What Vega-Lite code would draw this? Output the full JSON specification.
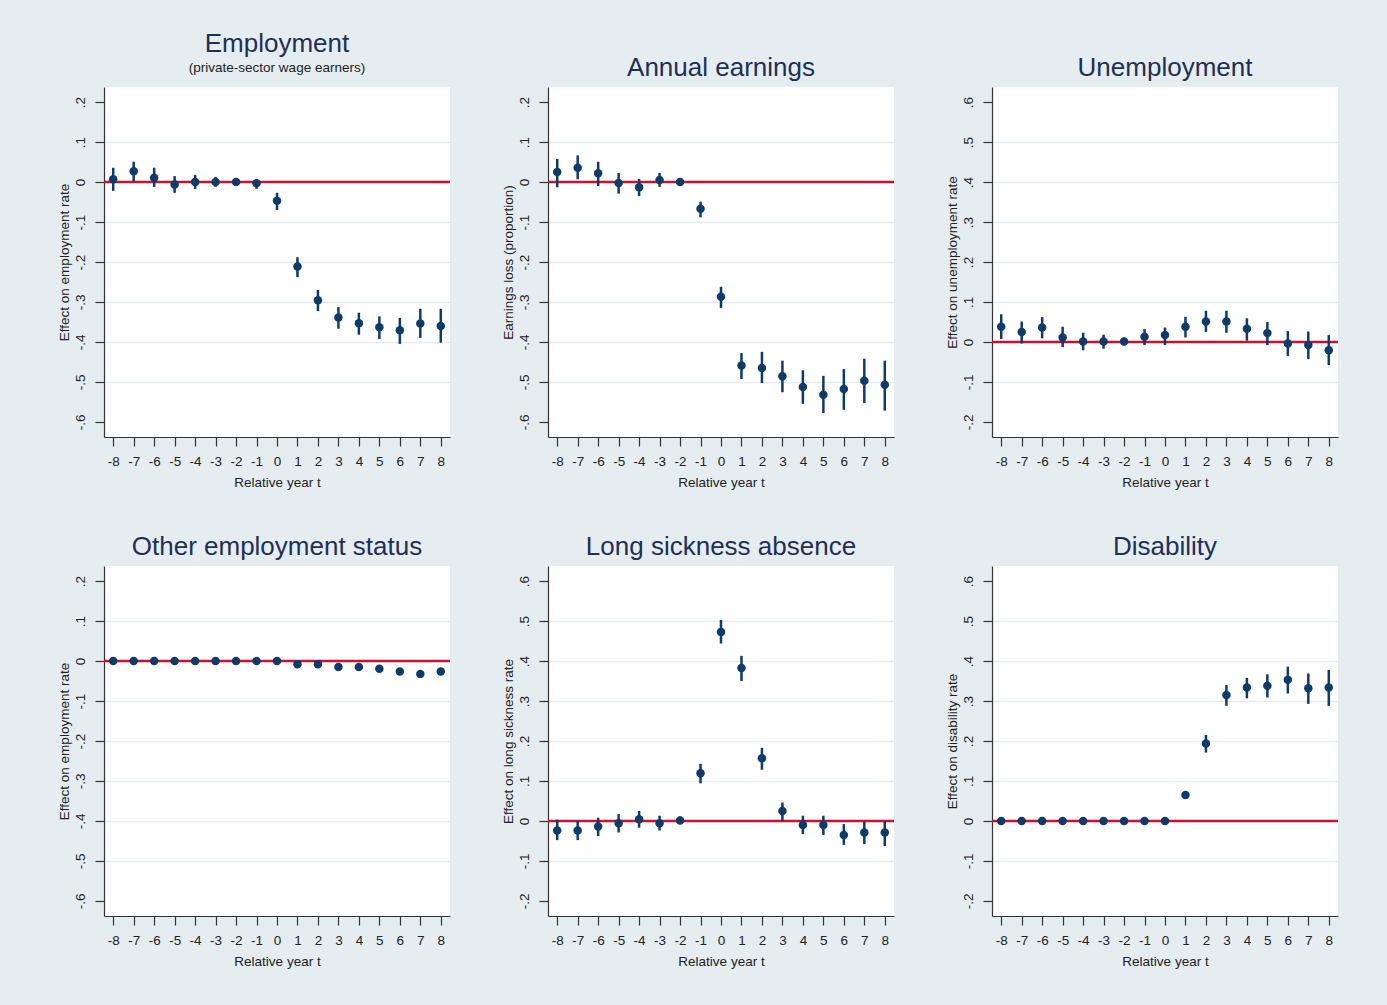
{
  "$schema": "https://vega.github.io/schema/vega-lite/v6.json",
  "background": "#e5edf1",
  "padding": {"left": 56, "top": 30, "right": 48, "bottom": 40},
  "bounds": "flush",
  "spacing": {"row": 129, "column": 98},
  "columns": 3,
  "datasets": {
    "d": [
      {"p":"emp","t":-8,"e":0.007,"lo":-0.022,"hi":0.036},
      {"p":"emp","t":-7,"e":0.027,"lo":0.002,"hi":0.051},
      {"p":"emp","t":-6,"e":0.011,"lo":-0.012,"hi":0.036},
      {"p":"emp","t":-5,"e":-0.006,"lo":-0.027,"hi":0.015},
      {"p":"emp","t":-4,"e":0.0,"lo":-0.017,"hi":0.018},
      {"p":"emp","t":-3,"e":0.0,"lo":-0.012,"hi":0.013},
      {"p":"emp","t":-2,"e":0.0,"lo":-0.007,"hi":0.007},
      {"p":"emp","t":-1,"e":-0.003,"lo":-0.017,"hi":0.008},
      {"p":"emp","t":0,"e":-0.047,"lo":-0.070,"hi":-0.027},
      {"p":"emp","t":1,"e":-0.211,"lo":-0.238,"hi":-0.188},
      {"p":"emp","t":2,"e":-0.296,"lo":-0.323,"hi":-0.270},
      {"p":"emp","t":3,"e":-0.339,"lo":-0.367,"hi":-0.313},
      {"p":"emp","t":4,"e":-0.353,"lo":-0.382,"hi":-0.327},
      {"p":"emp","t":5,"e":-0.363,"lo":-0.393,"hi":-0.336},
      {"p":"emp","t":6,"e":-0.371,"lo":-0.405,"hi":-0.340},
      {"p":"emp","t":7,"e":-0.354,"lo":-0.390,"hi":-0.317},
      {"p":"emp","t":8,"e":-0.360,"lo":-0.402,"hi":-0.317},

      {"p":"earn","t":-8,"e":0.025,"lo":-0.013,"hi":0.058},
      {"p":"earn","t":-7,"e":0.036,"lo":0.007,"hi":0.067},
      {"p":"earn","t":-6,"e":0.022,"lo":-0.010,"hi":0.051},
      {"p":"earn","t":-5,"e":-0.002,"lo":-0.029,"hi":0.023},
      {"p":"earn","t":-4,"e":-0.013,"lo":-0.035,"hi":0.008},
      {"p":"earn","t":-3,"e":0.005,"lo":-0.012,"hi":0.023},
      {"p":"earn","t":-2,"e":0.0,"lo":-0.008,"hi":0.008},
      {"p":"earn","t":-1,"e":-0.067,"lo":-0.088,"hi":-0.049},
      {"p":"earn","t":0,"e":-0.287,"lo":-0.315,"hi":-0.262},
      {"p":"earn","t":1,"e":-0.459,"lo":-0.493,"hi":-0.428},
      {"p":"earn","t":2,"e":-0.465,"lo":-0.503,"hi":-0.425},
      {"p":"earn","t":3,"e":-0.486,"lo":-0.526,"hi":-0.447},
      {"p":"earn","t":4,"e":-0.513,"lo":-0.555,"hi":-0.471},
      {"p":"earn","t":5,"e":-0.532,"lo":-0.578,"hi":-0.485},
      {"p":"earn","t":6,"e":-0.518,"lo":-0.570,"hi":-0.468},
      {"p":"earn","t":7,"e":-0.497,"lo":-0.553,"hi":-0.442},
      {"p":"earn","t":8,"e":-0.507,"lo":-0.572,"hi":-0.447},

      {"p":"unemp","t":-8,"e":0.038,"lo":0.007,"hi":0.069},
      {"p":"unemp","t":-7,"e":0.025,"lo":-0.004,"hi":0.051},
      {"p":"unemp","t":-6,"e":0.036,"lo":0.009,"hi":0.062},
      {"p":"unemp","t":-5,"e":0.011,"lo":-0.013,"hi":0.038},
      {"p":"unemp","t":-4,"e":0.001,"lo":-0.021,"hi":0.023},
      {"p":"unemp","t":-3,"e":0.001,"lo":-0.017,"hi":0.018},
      {"p":"unemp","t":-2,"e":0.001,"lo":-0.008,"hi":0.011},
      {"p":"unemp","t":-1,"e":0.013,"lo":-0.008,"hi":0.032},
      {"p":"unemp","t":0,"e":0.017,"lo":-0.008,"hi":0.036},
      {"p":"unemp","t":1,"e":0.038,"lo":0.011,"hi":0.063},
      {"p":"unemp","t":2,"e":0.051,"lo":0.025,"hi":0.078},
      {"p":"unemp","t":3,"e":0.051,"lo":0.023,"hi":0.078},
      {"p":"unemp","t":4,"e":0.033,"lo":0.003,"hi":0.059},
      {"p":"unemp","t":5,"e":0.022,"lo":-0.008,"hi":0.050},
      {"p":"unemp","t":6,"e":-0.004,"lo":-0.035,"hi":0.027},
      {"p":"unemp","t":7,"e":-0.008,"lo":-0.043,"hi":0.026},
      {"p":"unemp","t":8,"e":-0.021,"lo":-0.058,"hi":0.017},

      {"p":"other","t":-8,"e":0.0,"lo":-0.003,"hi":0.003},
      {"p":"other","t":-7,"e":0.0,"lo":-0.003,"hi":0.003},
      {"p":"other","t":-6,"e":0.0,"lo":-0.003,"hi":0.003},
      {"p":"other","t":-5,"e":0.0,"lo":-0.003,"hi":0.003},
      {"p":"other","t":-4,"e":0.0,"lo":-0.003,"hi":0.003},
      {"p":"other","t":-3,"e":0.0,"lo":-0.003,"hi":0.003},
      {"p":"other","t":-2,"e":0.0,"lo":-0.003,"hi":0.003},
      {"p":"other","t":-1,"e":0.0,"lo":-0.003,"hi":0.003},
      {"p":"other","t":0,"e":0.0,"lo":-0.003,"hi":0.003},
      {"p":"other","t":1,"e":-0.008,"lo":-0.011,"hi":-0.005},
      {"p":"other","t":2,"e":-0.008,"lo":-0.011,"hi":-0.005},
      {"p":"other","t":3,"e":-0.015,"lo":-0.018,"hi":-0.012},
      {"p":"other","t":4,"e":-0.015,"lo":-0.018,"hi":-0.012},
      {"p":"other","t":5,"e":-0.019,"lo":-0.022,"hi":-0.016},
      {"p":"other","t":6,"e":-0.026,"lo":-0.029,"hi":-0.023},
      {"p":"other","t":7,"e":-0.032,"lo":-0.035,"hi":-0.029},
      {"p":"other","t":8,"e":-0.026,"lo":-0.030,"hi":-0.022},

      {"p":"sick","t":-8,"e":-0.024,"lo":-0.048,"hi":0.003},
      {"p":"sick","t":-7,"e":-0.024,"lo":-0.048,"hi":0.0},
      {"p":"sick","t":-6,"e":-0.014,"lo":-0.038,"hi":0.008},
      {"p":"sick","t":-5,"e":-0.006,"lo":-0.029,"hi":0.017},
      {"p":"sick","t":-4,"e":0.004,"lo":-0.017,"hi":0.025},
      {"p":"sick","t":-3,"e":-0.006,"lo":-0.024,"hi":0.013},
      {"p":"sick","t":-2,"e":0.001,"lo":-0.008,"hi":0.011},
      {"p":"sick","t":-1,"e":0.119,"lo":0.094,"hi":0.143},
      {"p":"sick","t":0,"e":0.473,"lo":0.444,"hi":0.503},
      {"p":"sick","t":1,"e":0.383,"lo":0.350,"hi":0.413},
      {"p":"sick","t":2,"e":0.157,"lo":0.128,"hi":0.183},
      {"p":"sick","t":3,"e":0.025,"lo":0.0,"hi":0.046},
      {"p":"sick","t":4,"e":-0.010,"lo":-0.033,"hi":0.013},
      {"p":"sick","t":5,"e":-0.010,"lo":-0.035,"hi":0.013},
      {"p":"sick","t":6,"e":-0.035,"lo":-0.060,"hi":-0.008},
      {"p":"sick","t":7,"e":-0.029,"lo":-0.058,"hi":-0.002},
      {"p":"sick","t":8,"e":-0.029,"lo":-0.063,"hi":0.0},

      {"p":"dis","t":-8,"e":0.0,"lo":-0.003,"hi":0.003},
      {"p":"dis","t":-7,"e":0.0,"lo":-0.003,"hi":0.003},
      {"p":"dis","t":-6,"e":0.0,"lo":-0.003,"hi":0.003},
      {"p":"dis","t":-5,"e":0.0,"lo":-0.003,"hi":0.003},
      {"p":"dis","t":-4,"e":0.0,"lo":-0.003,"hi":0.003},
      {"p":"dis","t":-3,"e":0.0,"lo":-0.003,"hi":0.003},
      {"p":"dis","t":-2,"e":0.0,"lo":-0.003,"hi":0.003},
      {"p":"dis","t":-1,"e":0.0,"lo":-0.003,"hi":0.003},
      {"p":"dis","t":0,"e":0.0,"lo":-0.003,"hi":0.003},
      {"p":"dis","t":1,"e":0.065,"lo":0.058,"hi":0.072},
      {"p":"dis","t":2,"e":0.194,"lo":0.171,"hi":0.215},
      {"p":"dis","t":3,"e":0.315,"lo":0.288,"hi":0.340},
      {"p":"dis","t":4,"e":0.334,"lo":0.307,"hi":0.358},
      {"p":"dis","t":5,"e":0.338,"lo":0.309,"hi":0.367},
      {"p":"dis","t":6,"e":0.353,"lo":0.319,"hi":0.386},
      {"p":"dis","t":7,"e":0.332,"lo":0.293,"hi":0.369},
      {"p":"dis","t":8,"e":0.334,"lo":0.288,"hi":0.378}
    ]
  },
  "data": {"name": "d"},
  "config": {
    "font": "Liberation Sans",
    "view": {"stroke": null, "fill": "white"},
    "axis": {"domainColor": "#333333", "domainWidth": 1.2, "tickColor": "#333333", "tickWidth": 1.2, "tickSize": 9, "labelColor": "#222222", "labelFontSize": 13.5, "titleColor": "#222222", "titleFontSize": 13.5, "titleFontWeight": "normal", "gridColor": "#e3ebee", "gridWidth": 1.5, "labelFlush": false, "labelOverlap": false},
    "axisX": {"grid": false, "labelPadding": 8, "titlePadding": 8},
    "axisY": {"grid": true, "labelAngle": 270, "labelAlign": "center", "labelBaseline": "bottom", "labelPadding": 8, "titlePadding": 2},
    "title": {"fontSize": 26, "fontWeight": "normal", "color": "#1f2f55", "subtitleFontSize": 13.5, "subtitleColor": "#222222", "anchor": "middle", "frame": "group", "offset": 6, "subtitlePadding": 4}
  },
  "concat": [
    {
      "title": {"text": "Employment", "subtitle": "(private-sector wage earners)", "subtitleFontSize": 13.5, "offset": 13},
      "width": 346, "height": 350,
      "layer": [
        {"data": {"values": [{"z": 0}]}, "mark": {"type": "rule", "color": "#cc1030", "strokeWidth": 2.5}, "encoding": {"y": {"field": "z", "type": "quantitative", "scale": {"domain": [-0.638, 0.238], "nice": false, "zero": false}, "axis": {"title": "Effect on employment rate", "values": [-0.6,-0.5,-0.4,-0.3,-0.2,-0.1,0,0.1,0.2], "labelExpr": "datum.value == 0 ? '0' : (datum.value < 0 ? '-' : '') + replace(format(abs(datum.value), '.1f'), '0.', '.')", "gridOpacity": {"condition": {"test": "datum.value > 0.15 || datum.value < -0.55", "value": 0}, "value": 1}}}}},
        {"transform": [{"filter": "datum.p == 'emp'"}], "mark": {"type": "rule", "color": "#0f3b68", "strokeWidth": 2.5}, "encoding": {"x": {"field": "t", "type": "quantitative", "scale": {"domain": [-8.45, 8.45], "nice": false, "zero": false}, "axis": {"title": "Relative year t", "values": [-8,-7,-6,-5,-4,-3,-2,-1,0,1,2,3,4,5,6,7,8], "labelExpr": "(datum.value < 0 ? '-' : '') + abs(datum.value)"}}, "y": {"field": "lo", "type": "quantitative", "scale": {"domain": [-0.638, 0.238], "nice": false, "zero": false}, "axis": {"title": "Effect on employment rate", "values": [-0.6,-0.5,-0.4,-0.3,-0.2,-0.1,0,0.1,0.2], "labelExpr": "datum.value == 0 ? '0' : (datum.value < 0 ? '-' : '') + replace(format(abs(datum.value), '.1f'), '0.', '.')", "gridOpacity": {"condition": {"test": "datum.value > 0.15 || datum.value < -0.55", "value": 0}, "value": 1}}}, "y2": {"field": "hi"}}},
        {"transform": [{"filter": "datum.p == 'emp'"}], "mark": {"type": "point", "filled": true, "size": 72, "color": "#0f3b68", "opacity": 1}, "encoding": {"x": {"field": "t", "type": "quantitative", "scale": {"domain": [-8.45, 8.45], "nice": false, "zero": false}, "axis": {"title": "Relative year t", "values": [-8,-7,-6,-5,-4,-3,-2,-1,0,1,2,3,4,5,6,7,8], "labelExpr": "(datum.value < 0 ? '-' : '') + abs(datum.value)"}}, "y": {"field": "e", "type": "quantitative", "scale": {"domain": [-0.638, 0.238], "nice": false, "zero": false}, "axis": {"title": "Effect on employment rate", "values": [-0.6,-0.5,-0.4,-0.3,-0.2,-0.1,0,0.1,0.2], "labelExpr": "datum.value == 0 ? '0' : (datum.value < 0 ? '-' : '') + replace(format(abs(datum.value), '.1f'), '0.', '.')", "gridOpacity": {"condition": {"test": "datum.value > 0.15 || datum.value < -0.55", "value": 0}, "value": 1}}}}}
      ]
    },
    {
      "title": {"text": "Annual earnings", "offset": 6},
      "width": 346, "height": 350,
      "layer": [
        {"data": {"values": [{"z": 0}]}, "mark": {"type": "rule", "color": "#cc1030", "strokeWidth": 2.5}, "encoding": {"y": {"field": "z", "type": "quantitative", "scale": {"domain": [-0.638, 0.238], "nice": false, "zero": false}, "axis": {"title": "Earnings loss (proportion)", "values": [-0.6,-0.5,-0.4,-0.3,-0.2,-0.1,0,0.1,0.2], "labelExpr": "datum.value == 0 ? '0' : (datum.value < 0 ? '-' : '') + replace(format(abs(datum.value), '.1f'), '0.', '.')", "gridOpacity": {"condition": {"test": "datum.value > 0.15 || datum.value < -0.55", "value": 0}, "value": 1}}}}},
        {"transform": [{"filter": "datum.p == 'earn'"}], "mark": {"type": "rule", "color": "#0f3b68", "strokeWidth": 2.5}, "encoding": {"x": {"field": "t", "type": "quantitative", "scale": {"domain": [-8.45, 8.45], "nice": false, "zero": false}, "axis": {"title": "Relative year t", "values": [-8,-7,-6,-5,-4,-3,-2,-1,0,1,2,3,4,5,6,7,8], "labelExpr": "(datum.value < 0 ? '-' : '') + abs(datum.value)"}}, "y": {"field": "lo", "type": "quantitative", "scale": {"domain": [-0.638, 0.238], "nice": false, "zero": false}, "axis": {"title": "Earnings loss (proportion)", "values": [-0.6,-0.5,-0.4,-0.3,-0.2,-0.1,0,0.1,0.2], "labelExpr": "datum.value == 0 ? '0' : (datum.value < 0 ? '-' : '') + replace(format(abs(datum.value), '.1f'), '0.', '.')", "gridOpacity": {"condition": {"test": "datum.value > 0.15 || datum.value < -0.55", "value": 0}, "value": 1}}}, "y2": {"field": "hi"}}},
        {"transform": [{"filter": "datum.p == 'earn'"}], "mark": {"type": "point", "filled": true, "size": 72, "color": "#0f3b68", "opacity": 1}, "encoding": {"x": {"field": "t", "type": "quantitative", "scale": {"domain": [-8.45, 8.45], "nice": false, "zero": false}, "axis": {"title": "Relative year t", "values": [-8,-7,-6,-5,-4,-3,-2,-1,0,1,2,3,4,5,6,7,8], "labelExpr": "(datum.value < 0 ? '-' : '') + abs(datum.value)"}}, "y": {"field": "e", "type": "quantitative", "scale": {"domain": [-0.638, 0.238], "nice": false, "zero": false}, "axis": {"title": "Earnings loss (proportion)", "values": [-0.6,-0.5,-0.4,-0.3,-0.2,-0.1,0,0.1,0.2], "labelExpr": "datum.value == 0 ? '0' : (datum.value < 0 ? '-' : '') + replace(format(abs(datum.value), '.1f'), '0.', '.')", "gridOpacity": {"condition": {"test": "datum.value > 0.15 || datum.value < -0.55", "value": 0}, "value": 1}}}}}
      ]
    },
    {
      "title": {"text": "Unemployment", "offset": 6},
      "width": 346, "height": 350,
      "layer": [
        {"data": {"values": [{"z": 0}]}, "mark": {"type": "rule", "color": "#cc1030", "strokeWidth": 2.5}, "encoding": {"y": {"field": "z", "type": "quantitative", "scale": {"domain": [-0.238, 0.638], "nice": false, "zero": false}, "axis": {"title": "Effect on unemployment rate", "values": [-0.2,-0.1,0,0.1,0.2,0.3,0.4,0.5,0.6], "labelExpr": "datum.value == 0 ? '0' : (datum.value < 0 ? '-' : '') + replace(format(abs(datum.value), '.1f'), '0.', '.')", "gridOpacity": {"condition": {"test": "datum.value > 0.55 || datum.value < -0.15", "value": 0}, "value": 1}}}}},
        {"transform": [{"filter": "datum.p == 'unemp'"}], "mark": {"type": "rule", "color": "#0f3b68", "strokeWidth": 2.5}, "encoding": {"x": {"field": "t", "type": "quantitative", "scale": {"domain": [-8.45, 8.45], "nice": false, "zero": false}, "axis": {"title": "Relative year t", "values": [-8,-7,-6,-5,-4,-3,-2,-1,0,1,2,3,4,5,6,7,8], "labelExpr": "(datum.value < 0 ? '-' : '') + abs(datum.value)"}}, "y": {"field": "lo", "type": "quantitative", "scale": {"domain": [-0.238, 0.638], "nice": false, "zero": false}, "axis": {"title": "Effect on unemployment rate", "values": [-0.2,-0.1,0,0.1,0.2,0.3,0.4,0.5,0.6], "labelExpr": "datum.value == 0 ? '0' : (datum.value < 0 ? '-' : '') + replace(format(abs(datum.value), '.1f'), '0.', '.')", "gridOpacity": {"condition": {"test": "datum.value > 0.55 || datum.value < -0.15", "value": 0}, "value": 1}}}, "y2": {"field": "hi"}}},
        {"transform": [{"filter": "datum.p == 'unemp'"}], "mark": {"type": "point", "filled": true, "size": 72, "color": "#0f3b68", "opacity": 1}, "encoding": {"x": {"field": "t", "type": "quantitative", "scale": {"domain": [-8.45, 8.45], "nice": false, "zero": false}, "axis": {"title": "Relative year t", "values": [-8,-7,-6,-5,-4,-3,-2,-1,0,1,2,3,4,5,6,7,8], "labelExpr": "(datum.value < 0 ? '-' : '') + abs(datum.value)"}}, "y": {"field": "e", "type": "quantitative", "scale": {"domain": [-0.238, 0.638], "nice": false, "zero": false}, "axis": {"title": "Effect on unemployment rate", "values": [-0.2,-0.1,0,0.1,0.2,0.3,0.4,0.5,0.6], "labelExpr": "datum.value == 0 ? '0' : (datum.value < 0 ? '-' : '') + replace(format(abs(datum.value), '.1f'), '0.', '.')", "gridOpacity": {"condition": {"test": "datum.value > 0.55 || datum.value < -0.15", "value": 0}, "value": 1}}}}}
      ]
    },
    {
      "title": {"text": "Other employment status", "offset": 6},
      "width": 346, "height": 350,
      "layer": [
        {"data": {"values": [{"z": 0}]}, "mark": {"type": "rule", "color": "#cc1030", "strokeWidth": 2.5}, "encoding": {"y": {"field": "z", "type": "quantitative", "scale": {"domain": [-0.638, 0.238], "nice": false, "zero": false}, "axis": {"title": "Effect on employment rate", "values": [-0.6,-0.5,-0.4,-0.3,-0.2,-0.1,0,0.1,0.2], "labelExpr": "datum.value == 0 ? '0' : (datum.value < 0 ? '-' : '') + replace(format(abs(datum.value), '.1f'), '0.', '.')", "gridOpacity": {"condition": {"test": "datum.value > 0.15 || datum.value < -0.55", "value": 0}, "value": 1}}}}},
        {"transform": [{"filter": "datum.p == 'other'"}], "mark": {"type": "rule", "color": "#0f3b68", "strokeWidth": 2.5}, "encoding": {"x": {"field": "t", "type": "quantitative", "scale": {"domain": [-8.45, 8.45], "nice": false, "zero": false}, "axis": {"title": "Relative year t", "values": [-8,-7,-6,-5,-4,-3,-2,-1,0,1,2,3,4,5,6,7,8], "labelExpr": "(datum.value < 0 ? '-' : '') + abs(datum.value)"}}, "y": {"field": "lo", "type": "quantitative", "scale": {"domain": [-0.638, 0.238], "nice": false, "zero": false}, "axis": {"title": "Effect on employment rate", "values": [-0.6,-0.5,-0.4,-0.3,-0.2,-0.1,0,0.1,0.2], "labelExpr": "datum.value == 0 ? '0' : (datum.value < 0 ? '-' : '') + replace(format(abs(datum.value), '.1f'), '0.', '.')", "gridOpacity": {"condition": {"test": "datum.value > 0.15 || datum.value < -0.55", "value": 0}, "value": 1}}}, "y2": {"field": "hi"}}},
        {"transform": [{"filter": "datum.p == 'other'"}], "mark": {"type": "point", "filled": true, "size": 72, "color": "#0f3b68", "opacity": 1}, "encoding": {"x": {"field": "t", "type": "quantitative", "scale": {"domain": [-8.45, 8.45], "nice": false, "zero": false}, "axis": {"title": "Relative year t", "values": [-8,-7,-6,-5,-4,-3,-2,-1,0,1,2,3,4,5,6,7,8], "labelExpr": "(datum.value < 0 ? '-' : '') + abs(datum.value)"}}, "y": {"field": "e", "type": "quantitative", "scale": {"domain": [-0.638, 0.238], "nice": false, "zero": false}, "axis": {"title": "Effect on employment rate", "values": [-0.6,-0.5,-0.4,-0.3,-0.2,-0.1,0,0.1,0.2], "labelExpr": "datum.value == 0 ? '0' : (datum.value < 0 ? '-' : '') + replace(format(abs(datum.value), '.1f'), '0.', '.')", "gridOpacity": {"condition": {"test": "datum.value > 0.15 || datum.value < -0.55", "value": 0}, "value": 1}}}}}
      ]
    },
    {
      "title": {"text": "Long sickness absence", "offset": 6},
      "width": 346, "height": 350,
      "layer": [
        {"data": {"values": [{"z": 0}]}, "mark": {"type": "rule", "color": "#cc1030", "strokeWidth": 2.5}, "encoding": {"y": {"field": "z", "type": "quantitative", "scale": {"domain": [-0.238, 0.638], "nice": false, "zero": false}, "axis": {"title": "Effect on long sickness rate", "values": [-0.2,-0.1,0,0.1,0.2,0.3,0.4,0.5,0.6], "labelExpr": "datum.value == 0 ? '0' : (datum.value < 0 ? '-' : '') + replace(format(abs(datum.value), '.1f'), '0.', '.')", "gridOpacity": {"condition": {"test": "datum.value > 0.55 || datum.value < -0.15", "value": 0}, "value": 1}}}}},
        {"transform": [{"filter": "datum.p == 'sick'"}], "mark": {"type": "rule", "color": "#0f3b68", "strokeWidth": 2.5}, "encoding": {"x": {"field": "t", "type": "quantitative", "scale": {"domain": [-8.45, 8.45], "nice": false, "zero": false}, "axis": {"title": "Relative year t", "values": [-8,-7,-6,-5,-4,-3,-2,-1,0,1,2,3,4,5,6,7,8], "labelExpr": "(datum.value < 0 ? '-' : '') + abs(datum.value)"}}, "y": {"field": "lo", "type": "quantitative", "scale": {"domain": [-0.238, 0.638], "nice": false, "zero": false}, "axis": {"title": "Effect on long sickness rate", "values": [-0.2,-0.1,0,0.1,0.2,0.3,0.4,0.5,0.6], "labelExpr": "datum.value == 0 ? '0' : (datum.value < 0 ? '-' : '') + replace(format(abs(datum.value), '.1f'), '0.', '.')", "gridOpacity": {"condition": {"test": "datum.value > 0.55 || datum.value < -0.15", "value": 0}, "value": 1}}}, "y2": {"field": "hi"}}},
        {"transform": [{"filter": "datum.p == 'sick'"}], "mark": {"type": "point", "filled": true, "size": 72, "color": "#0f3b68", "opacity": 1}, "encoding": {"x": {"field": "t", "type": "quantitative", "scale": {"domain": [-8.45, 8.45], "nice": false, "zero": false}, "axis": {"title": "Relative year t", "values": [-8,-7,-6,-5,-4,-3,-2,-1,0,1,2,3,4,5,6,7,8], "labelExpr": "(datum.value < 0 ? '-' : '') + abs(datum.value)"}}, "y": {"field": "e", "type": "quantitative", "scale": {"domain": [-0.238, 0.638], "nice": false, "zero": false}, "axis": {"title": "Effect on long sickness rate", "values": [-0.2,-0.1,0,0.1,0.2,0.3,0.4,0.5,0.6], "labelExpr": "datum.value == 0 ? '0' : (datum.value < 0 ? '-' : '') + replace(format(abs(datum.value), '.1f'), '0.', '.')", "gridOpacity": {"condition": {"test": "datum.value > 0.55 || datum.value < -0.15", "value": 0}, "value": 1}}}}}
      ]
    },
    {
      "title": {"text": "Disability", "offset": 6},
      "width": 346, "height": 350,
      "layer": [
        {"data": {"values": [{"z": 0}]}, "mark": {"type": "rule", "color": "#cc1030", "strokeWidth": 2.5}, "encoding": {"y": {"field": "z", "type": "quantitative", "scale": {"domain": [-0.238, 0.638], "nice": false, "zero": false}, "axis": {"title": "Effect on disability rate", "values": [-0.2,-0.1,0,0.1,0.2,0.3,0.4,0.5,0.6], "labelExpr": "datum.value == 0 ? '0' : (datum.value < 0 ? '-' : '') + replace(format(abs(datum.value), '.1f'), '0.', '.')", "gridOpacity": {"condition": {"test": "datum.value > 0.55 || datum.value < -0.15", "value": 0}, "value": 1}}}}},
        {"transform": [{"filter": "datum.p == 'dis'"}], "mark": {"type": "rule", "color": "#0f3b68", "strokeWidth": 2.5}, "encoding": {"x": {"field": "t", "type": "quantitative", "scale": {"domain": [-8.45, 8.45], "nice": false, "zero": false}, "axis": {"title": "Relative year t", "values": [-8,-7,-6,-5,-4,-3,-2,-1,0,1,2,3,4,5,6,7,8], "labelExpr": "(datum.value < 0 ? '-' : '') + abs(datum.value)"}}, "y": {"field": "lo", "type": "quantitative", "scale": {"domain": [-0.238, 0.638], "nice": false, "zero": false}, "axis": {"title": "Effect on disability rate", "values": [-0.2,-0.1,0,0.1,0.2,0.3,0.4,0.5,0.6], "labelExpr": "datum.value == 0 ? '0' : (datum.value < 0 ? '-' : '') + replace(format(abs(datum.value), '.1f'), '0.', '.')", "gridOpacity": {"condition": {"test": "datum.value > 0.55 || datum.value < -0.15", "value": 0}, "value": 1}}}, "y2": {"field": "hi"}}},
        {"transform": [{"filter": "datum.p == 'dis'"}], "mark": {"type": "point", "filled": true, "size": 72, "color": "#0f3b68", "opacity": 1}, "encoding": {"x": {"field": "t", "type": "quantitative", "scale": {"domain": [-8.45, 8.45], "nice": false, "zero": false}, "axis": {"title": "Relative year t", "values": [-8,-7,-6,-5,-4,-3,-2,-1,0,1,2,3,4,5,6,7,8], "labelExpr": "(datum.value < 0 ? '-' : '') + abs(datum.value)"}}, "y": {"field": "e", "type": "quantitative", "scale": {"domain": [-0.238, 0.638], "nice": false, "zero": false}, "axis": {"title": "Effect on disability rate", "values": [-0.2,-0.1,0,0.1,0.2,0.3,0.4,0.5,0.6], "labelExpr": "datum.value == 0 ? '0' : (datum.value < 0 ? '-' : '') + replace(format(abs(datum.value), '.1f'), '0.', '.')", "gridOpacity": {"condition": {"test": "datum.value > 0.55 || datum.value < -0.15", "value": 0}, "value": 1}}}}}
      ]
    }
  ]
}
